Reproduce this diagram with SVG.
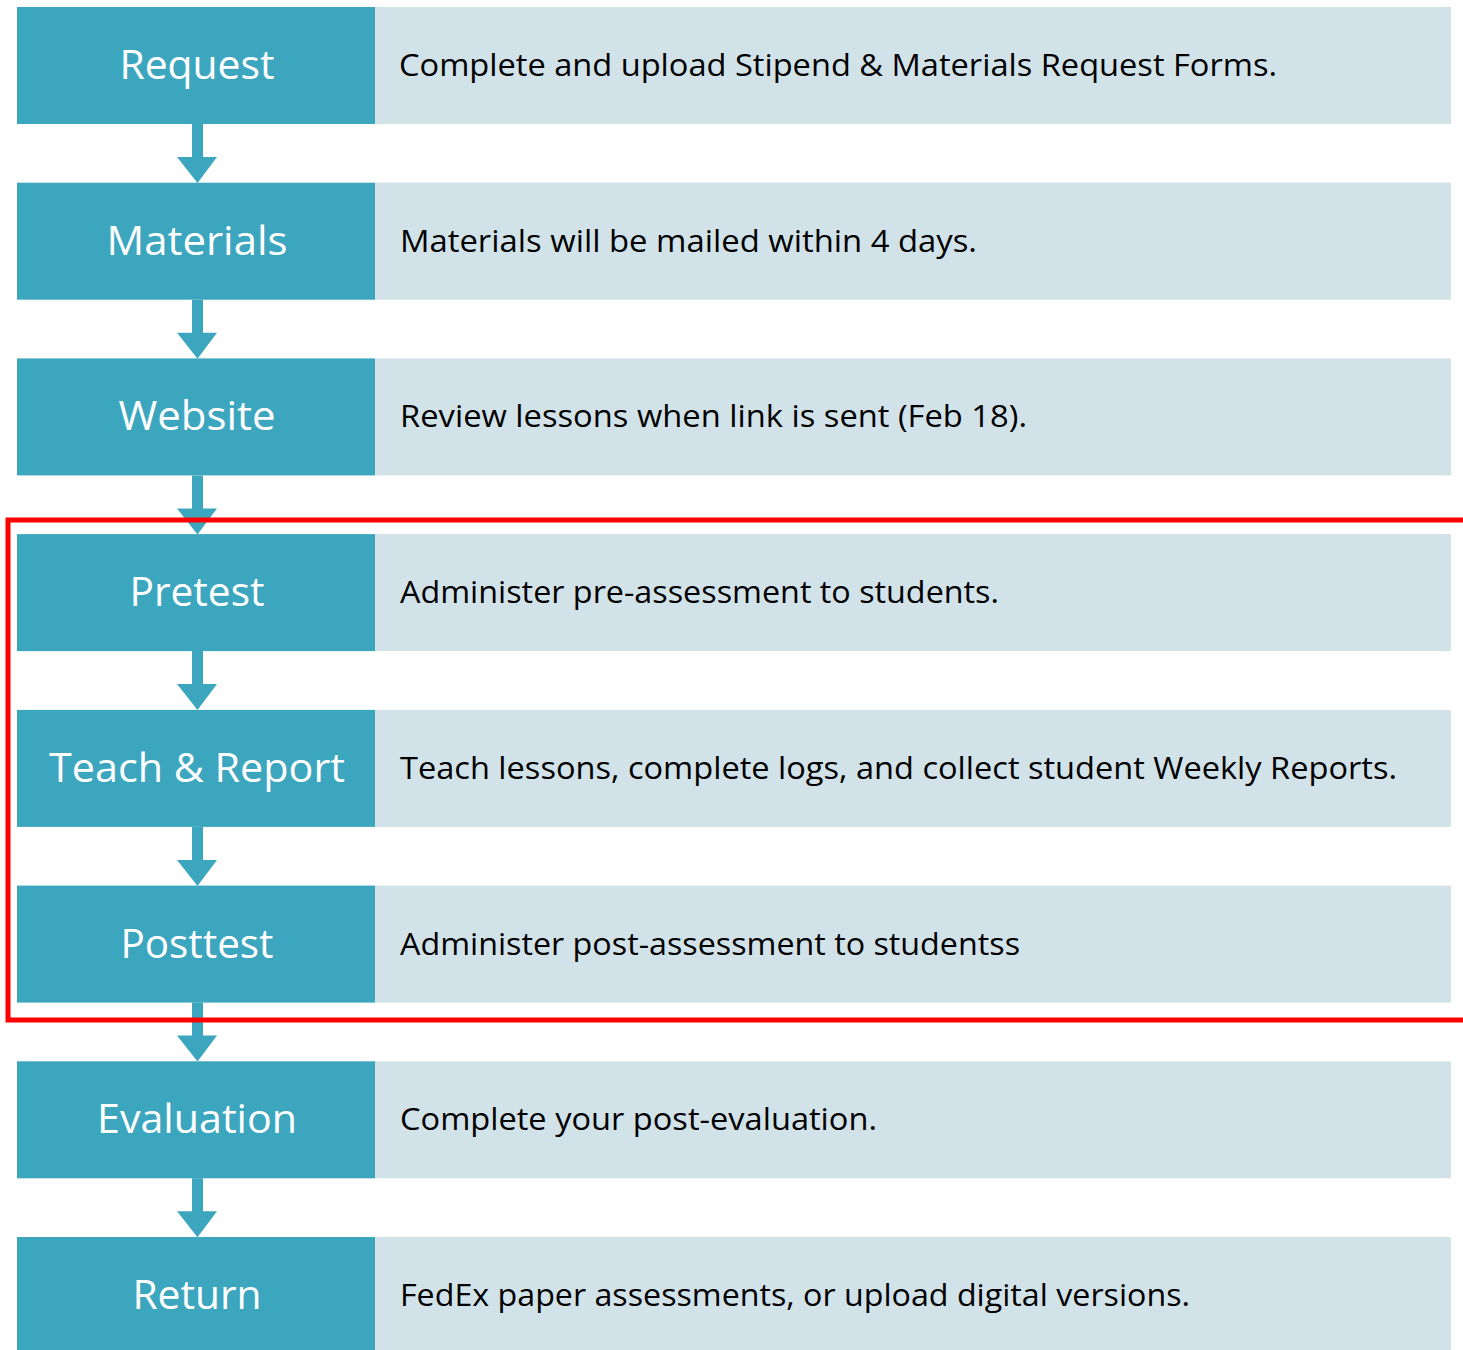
<svg xmlns="http://www.w3.org/2000/svg" width="1463" height="1350" viewBox="0 0 1463 1350">
  <style>
    .step { fill: #3DA6BF; }
    .desc { fill: #D1E2E9; }
    .label { font-family: "Open Sans", "Noto Sans", sans-serif; font-size: 40px; fill: #FFFFFF; text-anchor: middle; }
    .info { font-family: "Open Sans", "Noto Sans", sans-serif; font-size: 31px; fill: #000000; }
    .arrow { fill: #3DA6BF; }
  </style>
  <defs>
    <!-- downward arrow between rows: shaft + head, tip at local y=59 -->
    <path id="down" d="M192,0 H203 V33 H217 L197.5,59 L177,33 H192 Z"/>
  </defs>

  <rect width="1463" height="1350" fill="#FFFFFF"/>

  <g id="connectors">
    <use href="#down" class="arrow" y="124"/>
    <use href="#down" class="arrow" y="299.7"/>
    <use href="#down" class="arrow" y="475.4"/>
    <use href="#down" class="arrow" y="651.1"/>
    <use href="#down" class="arrow" y="826.9"/>
    <use href="#down" class="arrow" y="1002.6"/>
    <use href="#down" class="arrow" y="1178.3"/>
  </g>

  <g id="request">
    <rect class="step" x="17" y="7" width="358" height="117"/>
    <rect class="desc" x="375" y="7" width="1076" height="117"/>
    <text class="label" x="197" y="79" textLength="155" lengthAdjust="spacingAndGlyphs">Request</text>
    <text class="info" x="399" y="76" textLength="878" lengthAdjust="spacingAndGlyphs">Complete and upload Stipend &amp; Materials Request Forms.</text>
  </g>

  <g id="materials">
    <rect class="step" x="17" y="182.7" width="358" height="117"/>
    <rect class="desc" x="375" y="182.7" width="1076" height="117"/>
    <text class="label" x="197" y="254.7" textLength="181" lengthAdjust="spacingAndGlyphs">Materials</text>
    <text class="info" x="400" y="251.7" textLength="577" lengthAdjust="spacingAndGlyphs">Materials will be mailed within 4 days.</text>
  </g>

  <g id="website">
    <rect class="step" x="17" y="358.4" width="358" height="117"/>
    <rect class="desc" x="375" y="358.4" width="1076" height="117"/>
    <text class="label" x="197" y="430.4" textLength="157" lengthAdjust="spacingAndGlyphs">Website</text>
    <text class="info" x="400" y="427.4" textLength="627" lengthAdjust="spacingAndGlyphs">Review lessons when link is sent (Feb 18).</text>
  </g>

  <g id="pretest">
    <rect class="step" x="17" y="534.1" width="358" height="117"/>
    <rect class="desc" x="375" y="534.1" width="1076" height="117"/>
    <text class="label" x="197" y="606.1" textLength="135" lengthAdjust="spacingAndGlyphs">Pretest</text>
    <text class="info" x="400" y="603.1" textLength="599" lengthAdjust="spacingAndGlyphs">Administer pre-assessment to students.</text>
  </g>

  <g id="teach-report">
    <rect class="step" x="17" y="709.9" width="358" height="117"/>
    <rect class="desc" x="375" y="709.9" width="1076" height="117"/>
    <text class="label" x="197" y="781.9" textLength="296" lengthAdjust="spacingAndGlyphs">Teach &amp; Report</text>
    <text class="info" x="400" y="778.9" textLength="997" lengthAdjust="spacingAndGlyphs">Teach lessons, complete logs, and collect student Weekly Reports.</text>
  </g>

  <g id="posttest">
    <rect class="step" x="17" y="885.6" width="358" height="117"/>
    <rect class="desc" x="375" y="885.6" width="1076" height="117"/>
    <text class="label" x="197" y="957.6" textLength="153" lengthAdjust="spacingAndGlyphs">Posttest</text>
    <text class="info" x="400" y="954.6" textLength="620" lengthAdjust="spacingAndGlyphs">Administer post-assessment to studentss</text>
  </g>

  <g id="evaluation">
    <rect class="step" x="17" y="1061.3" width="358" height="117"/>
    <rect class="desc" x="375" y="1061.3" width="1076" height="117"/>
    <text class="label" x="197" y="1133.3" textLength="200" lengthAdjust="spacingAndGlyphs">Evaluation</text>
    <text class="info" x="400" y="1130.3" textLength="477" lengthAdjust="spacingAndGlyphs">Complete your post-evaluation.</text>
  </g>

  <g id="return">
    <rect class="step" x="17" y="1237" width="358" height="117"/>
    <rect class="desc" x="375" y="1237" width="1076" height="117"/>
    <text class="label" x="197" y="1309" textLength="129" lengthAdjust="spacingAndGlyphs">Return</text>
    <text class="info" x="400" y="1306" textLength="790" lengthAdjust="spacingAndGlyphs">FedEx paper assessments, or upload digital versions.</text>
  </g>

  <!-- highlight frame around the classroom steps -->
  <rect id="highlight" x="8" y="520" width="1470" height="500" fill="none" stroke="#FF0000" stroke-width="5"/>
</svg>
